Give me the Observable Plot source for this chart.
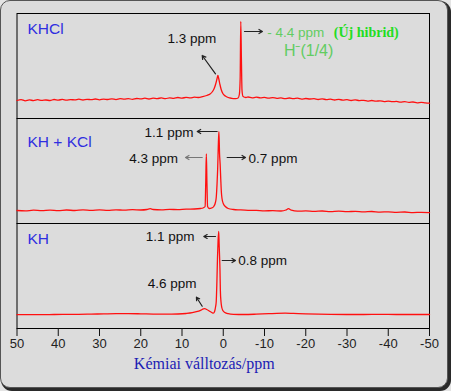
<!DOCTYPE html>
<html>
<head>
<meta charset="utf-8">
<script src="https://cdn.jsdelivr.net/npm/d3@7"></script>
<script src="https://cdn.jsdelivr.net/npm/@observablehq/plot@0.6"></script>
<style>
  body { margin:0; background:#e4e4e4; width:451px; height:391px; overflow:hidden; position:relative; }
  #bg { position:absolute; left:0; top:0; width:446px; height:386px; border:1px solid #555; border-radius:10px;
        background:#dcdcdc; box-shadow:2px 2px 0 1px #2a2a2a; }
  #chart { position:absolute; left:0; top:0; }
</style>
</head>
<body>
<div id="bg"></div>
<div id="chart"></div>
<script>
// ---- data ----
const categories = ["KHCl", "KH + KCl", "KH"];
const xTicks = [50, 40, 30, 20, 10, 0, -10, -20, -30, -40, -50];
const xLabel = "Kémiai válltozás/ppm";

// KHCl spectrum (ppm, intensity)
const khclPpm = [50,49,48,47,46,45,44,43,42,41,40,39,38,37,36,35,34,33,32,31,30,29,28,27,26,25,24,23,22,21,20,19,18,17,16,15,14,13,12,11,10,9,8,7,6,5,4,3.2,2.6,2.2,1.8,1.5,1.3,1.1,0.8,0.5,0.1,-0.5,-1.2,-2,-3,-3.6,-3.9,-4.1,-4.25,-4.4,-4.55,-4.8,-5.5,-6,-7,-8,-9,-10,-11,-12,-13,-14,-15,-16,-17,-18,-19,-20,-21,-22,-23,-24,-25,-26,-27,-28,-29,-30,-31,-32,-33,-34,-35,-36,-37,-38,-39,-40,-41,-42,-43,-44,-45,-46,-47,-48,-49,-50];
const khclInt = [18.0,18.9,17.7,18.6,17.9,18.8,18.1,18.5,18.0,19.0,18.4,19.1,18.3,18.9,18.6,19.3,18.5,19.2,18.8,19.5,18.7,19.4,19.0,19.7,18.9,19.8,19.3,19.9,19.1,20.0,19.6,20.3,19.5,20.4,19.9,20.6,19.8,20.7,20.2,21.0,20.4,21.1,20.6,21.3,21.0,21.8,23.0,24.5,27,30,35,40,43,40,34,29,25,22.5,21,20.2,19.8,20.5,24,40,97,60,28,22,21,21.5,20.6,21.3,20.7,21.1,20.3,20.9,20.2,20.6,19.8,20.5,19.9,20.3,19.4,20.0,19.5,19.8,19.0,19.6,18.9,19.3,18.5,19.1,18.4,18.8,18.0,18.6,17.9,18.2,17.4,18.0,17.3,17.7,16.9,17.4,16.8,17.1,16.3,16.9,16.1,16.5,15.7,16.2,15.6,15.3];

// KH + KCl spectrum
const khkclPpm = [50,48,46,44,42,40,38,36,34,32,30,28,26,24,22,20,18.5,17.7,17,15,13,11,9,7,5.5,4.8,4.4,4.25,4.1,3.95,3.8,3.4,2.8,2.3,1.9,1.7,1.5,1.35,1.2,1.05,0.9,0.75,0.6,0.45,0.3,0,-0.5,-1.2,-2.5,-4,-6,-8,-10,-12,-14,-15.2,-15.8,-16.5,-18,-20,-22,-24,-26,-28,-30,-32,-34,-36,-38,-40,-42,-44,-46,-48,-50];
const khkclInt = [13.0,12.6,13.3,12.8,13.4,12.9,13.5,13.0,13.6,13.1,13.7,13.2,13.7,13.3,13.8,13.5,14.0,14.8,14.0,13.7,14.1,13.9,14.4,14.5,15.0,15.8,17,40,69.5,40,17,15,15.5,17,21,26,40,55,78,92,70,59,44,31,25,20,17,15,14,13.6,13.2,13.1,12.7,12.8,12.5,13.5,14.8,13.3,12.3,12.6,12.1,12.5,11.9,12.3,11.8,12.2,11.6,12.0,11.4,11.7,11.2,11.5,10.9,11.2,10.8];

// KH spectrum
const khPpm = [50,47,44,41,38,35,32,29,26,23,20,17,14,11,9,7.5,6.5,5.5,4.8,4.5,4,3.4,2.8,2.4,2.1,1.85,1.7,1.55,1.4,1.25,1.1,1.0,0.9,0.8,0.7,0.55,0.35,0.1,-0.4,-1.2,-2.5,-5,-8,-11,-13,-15,-17,-20,-23,-26,-30,-34,-38,-42,-46,-50];
const khInt = [13.8,13.9,13.8,14.0,14.1,14.2,14.4,14.6,14.8,14.9,14.7,14.4,14.3,14.5,15.0,15.8,16.8,18.2,19.6,19.8,19.0,17.5,16.0,15.3,17,22,27,45,70,88,97,85,73,60,38,27,21,18,16,14.8,14.2,14.0,14.3,14.8,15.2,15.4,15.1,14.6,14.3,14.1,14.0,14.0,14.1,14.0,14.0,14.0];

// panel names
const panelLabels = ["KHCl", "KH + KCl", "KH"];
const panelLabelPpm = [47.45, 47.45, 47.45];
const panelLabelInt = [89.7, 81, 89];

// black peak labels
const peakText = ["1.3 ppm", "1.1 ppm", "4.3 ppm", "0.7 ppm", "1.1 ppm", "0.8 ppm", "4.6 ppm"];
const peakPanel = ["KHCl", "KH + KCl", "KH + KCl", "KH + KCl", "KH", "KH", "KH"];
const peakPpm = [7.62, 13.15, 16.9, -12.06, 12.86, -9.56, 12.38];
const peakInt = [80, 91.3, 65.3, 65.3, 92.2, 68, 44.7];

// green labels (KHCl panel)
const greenText = ["- 4.4 ppm", "H\u207B(1/4)"];
const greenPpm = [-10.65, -14.7];
const greenInt = [86.3, 68];
const greenSize = [13.5, 16];
const boldText = ["(Új hibrid)"];
const boldPpm = [-26.8];
const boldInt = [86.3];

// arrows
const arrowPanel = ["KHCl", "KHCl", "KH + KCl", "KH + KCl", "KH + KCl", "KH", "KH", "KH"];
const arrowPpm1 = [1.88, -5.15, 1.47, 5.1, -0.95, 1.88, 0.25, 5.1];
const arrowInt1 = [44.7, 87, 92, 66, 66, 92, 68, 22.3];
const arrowPpm2 = [5.1, -9.5, 6.31, 9.15, -5.4, 4.72, -2.97, 6.5];
const arrowInt2 = [63, 87, 92, 66, 66, 92, 68, 31.3];
const arrowColor = ["#222", "#222", "#222", "#777", "#222", "#222", "#222", "#222"];

// ---- build tables ----
const spectra = [
  ...khclPpm.map((p, i) => ({sample: "KHCl", ppm: p, int: khclInt[i]})),
  ...khkclPpm.map((p, i) => ({sample: "KH + KCl", ppm: p, int: khkclInt[i]})),
  ...khPpm.map((p, i) => ({sample: "KH", ppm: p, int: khInt[i]}))
];
const panelTab = panelLabels.map((t, i) => ({t, panel: categories[i], ppm: panelLabelPpm[i], int: panelLabelInt[i]}));
const peakTab = peakText.map((t, i) => ({t, panel: peakPanel[i], ppm: peakPpm[i], int: peakInt[i]}));
const greenTab = greenText.map((t, i) => ({t, panel: "KHCl", ppm: greenPpm[i], int: greenInt[i], fs: greenSize[i]}));
const boldTab = boldText.map((t, i) => ({t, panel: "KHCl", ppm: boldPpm[i], int: boldInt[i]}));
const arrowTab = arrowPanel.map((p, i) => ({panel: p, x1: arrowPpm1[i], y1: arrowInt1[i], x2: arrowPpm2[i], y2: arrowInt2[i], c: arrowColor[i]}));

const chart = Plot.plot({
  width: 451,
  height: 391,
  marginTop: 13,
  marginBottom: 63,
  marginLeft: 16.5,
  marginRight: 22,
  style: {background: "transparent", fontFamily: "Arial, 'Liberation Sans', sans-serif", color: "#222"},
  x: {domain: [50, -50]},
  y: {domain: [0, 105], axis: null},
  fy: {domain: categories, padding: 0, axis: null},
  marks: [
    Plot.frame({stroke: "black", strokeWidth: 1}),
    Plot.axisX({ticks: xTicks, tickSize: 8, tickPadding: 2, tickFormat: d => String(d), fontSize: 13, label: null, stroke: "#111"}),
    Plot.line(spectra, {x: "ppm", y: "int", fy: "sample", stroke: "#ff1010", strokeWidth: 1.3, curve: "monotone-x"}),
    Plot.text(panelTab, {x: "ppm", y: "int", fy: "panel", text: "t", textAnchor: "start", fontSize: 15.5, fill: "#2f2fe0"}),
    Plot.text(peakTab, {x: "ppm", y: "int", fy: "panel", text: "t", fontSize: 13.5, fill: "#111"}),
    Plot.text(greenTab, {x: "ppm", y: "int", fy: "panel", text: "t", textAnchor: "start", fontSize: "fs", fill: "#62cc62"}),
    Plot.text(boldTab, {x: "ppm", y: "int", fy: "panel", text: "t", textAnchor: "start", fontSize: 14, fontWeight: "bold", fontFamily: "'Liberation Serif', 'DejaVu Serif', serif", fill: "#22dd22"}),
    Plot.arrow(arrowTab, {x1: "x1", y1: "y1", x2: "x2", y2: "y2", fy: "panel", stroke: "c", strokeWidth: 1.2, headLength: 5}),
    Plot.text([xLabel], {fy: () => "KH", frameAnchor: "bottom", dx: -19, dy: 40, text: d => d, fontSize: 16, fontFamily: "'Liberation Serif', 'Times New Roman', serif", fill: "#1c1cb4"})
  ]
});
document.getElementById("chart").appendChild(chart);
</script>
</body>
</html>
